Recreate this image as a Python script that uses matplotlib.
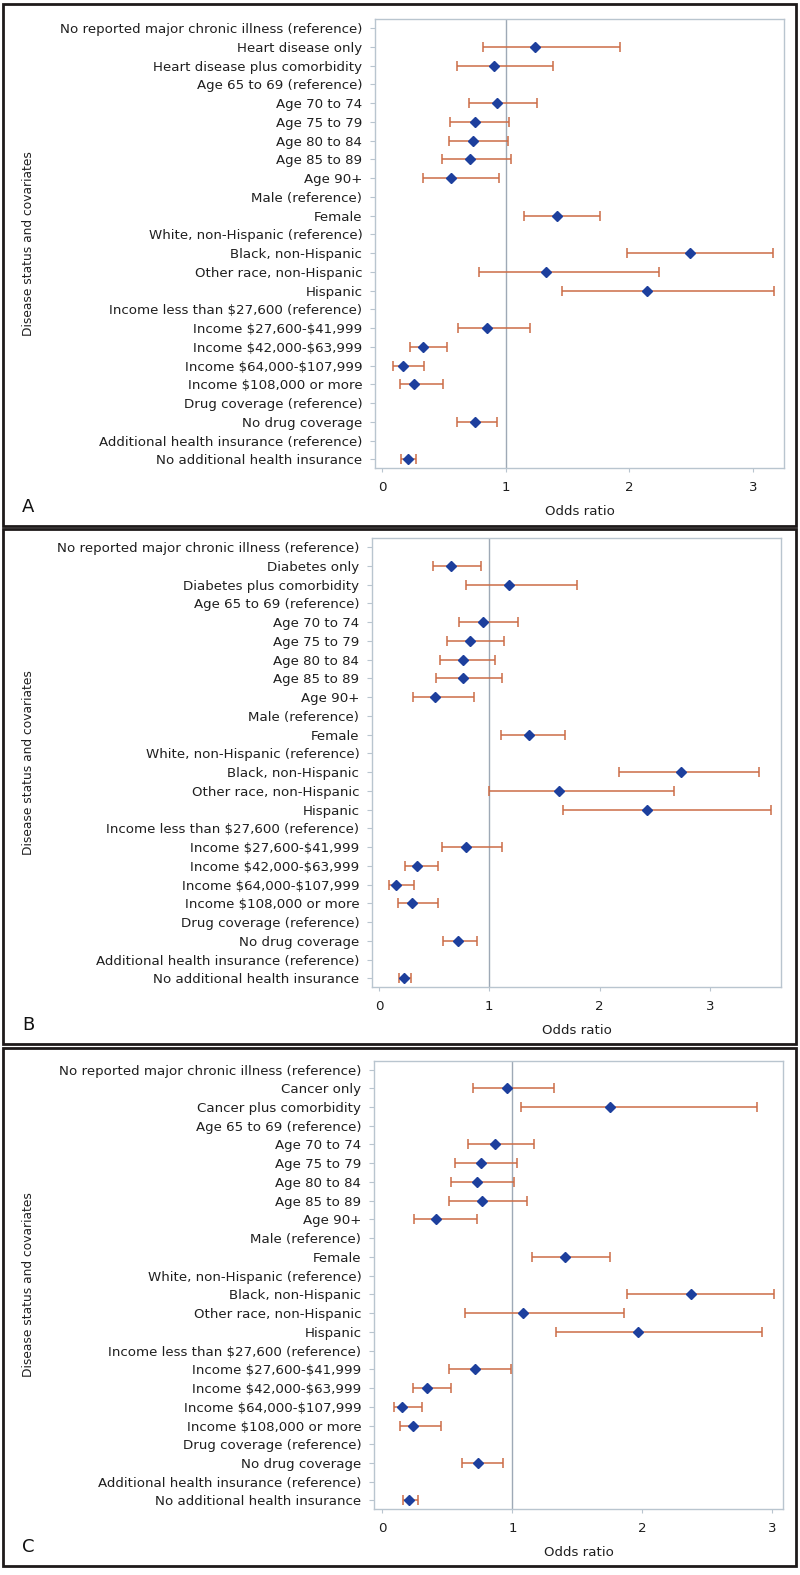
import numpy as np
import matplotlib
matplotlib.use("Agg")
import matplotlib.pyplot as plt
from matplotlib.patches import Rectangle

plt.rcParams['font.family'] = ['DejaVu Sans']
plt.rcParams['text.parse_math'] = False  # labels contain dollar signs

nan = np.nan

# rows shared by all three panels (after the three disease rows)
common_labels = [
    "Age 65 to 69 (reference)", "Age 70 to 74", "Age 75 to 79", "Age 80 to 84",
    "Age 85 to 89", "Age 90+", "Male (reference)", "Female",
    "White, non-Hispanic (reference)", "Black, non-Hispanic",
    "Other race, non-Hispanic", "Hispanic",
    "Income less than $27,600 (reference)", "Income $27,600-$41,999",
    "Income $42,000-$63,999", "Income $64,000-$107,999",
    "Income $108,000 or more", "Drug coverage (reference)", "No drug coverage",
    "Additional health insurance (reference)", "No additional health insurance",
]

labels_a = ["No reported major chronic illness (reference)", "Heart disease only",
            "Heart disease plus comorbidity"] + common_labels
labels_b = ["No reported major chronic illness (reference)", "Diabetes only",
            "Diabetes plus comorbidity"] + common_labels
labels_c = ["No reported major chronic illness (reference)", "Cancer only",
            "Cancer plus comorbidity"] + common_labels

# panel A - heart disease
or_a = [nan, 1.235, 0.909, nan, 0.929, 0.752, 0.739, 0.710, 0.558, nan, 1.412, nan,
        2.490, 1.322, 2.139, nan, 0.851, 0.331, 0.170, 0.260, nan, 0.748, nan, 0.207]
lo_a = [nan, 0.817, 0.607, nan, 0.700, 0.553, 0.541, 0.483, 0.335, nan, 1.144, nan,
        1.978, 0.784, 1.458, nan, 0.615, 0.227, 0.091, 0.149, nan, 0.607, nan, 0.157]
hi_a = [nan, 1.920, 1.383, nan, 1.250, 1.028, 1.016, 1.045, 0.946, nan, 1.759, nan,
        3.158, 2.242, 3.167, nan, 1.198, 0.529, 0.339, 0.496, nan, 0.933, nan, 0.277]

# panel B - diabetes
or_b = [nan, 0.657, 1.176, nan, 0.940, 0.829, 0.759, 0.759, 0.505, nan, 1.361, nan,
        2.736, 1.630, 2.426, nan, 0.792, 0.347, 0.153, 0.301, nan, 0.718, nan, 0.231]
lo_b = [nan, 0.486, 0.787, nan, 0.727, 0.620, 0.551, 0.519, 0.310, nan, 1.102, nan,
        2.180, 1.000, 1.671, nan, 0.569, 0.236, 0.088, 0.176, nan, 0.583, nan, 0.180]
hi_b = [nan, 0.926, 1.792, nan, 1.259, 1.130, 1.051, 1.120, 0.861, nan, 1.685, nan,
        3.449, 2.676, 3.556, nan, 1.120, 0.532, 0.315, 0.537, nan, 0.889, nan, 0.292]

# panel C - cancer
or_c = [nan, 0.956, 1.750, nan, 0.869, 0.759, 0.731, 0.763, 0.413, nan, 1.404, nan,
        2.375, 1.081, 1.966, nan, 0.712, 0.342, 0.149, 0.232, nan, 0.739, nan, 0.204]
lo_c = [nan, 0.696, 1.066, nan, 0.657, 0.562, 0.531, 0.511, 0.240, nan, 1.152, nan,
        1.884, 0.637, 1.333, nan, 0.515, 0.232, 0.087, 0.134, nan, 0.610, nan, 0.161]
hi_c = [nan, 1.321, 2.882, nan, 1.168, 1.034, 1.011, 1.109, 0.727, nan, 1.754, nan,
        3.016, 1.860, 2.922, nan, 0.991, 0.531, 0.303, 0.452, nan, 0.928, nan, 0.275]

W, H = 800, 1575
EDGE = '#b9c5cf'
REFLINE = '#9ea9b6'
ERRC = '#cc6c46'
DOTC = '#1d3f9d'
TXT = '#1f1f1f'

fig = plt.figure(figsize=(W / 100, H / 100), dpi=100)


def px_box(left, right, top, bottom):
    return [left / W, 1 - bottom / H, (right - left) / W, (bottom - top) / H]


panels = [
    # letter, labels, or, lo, hi, axes box (px), xlim, frame (top, bottom)
    ("A", labels_a, or_a, lo_a, hi_a, (375, 784, 19.3, 468.3), (-0.057, 3.25), (4, 526)),
    ("B", labels_b, or_b, lo_b, hi_b, (372, 781, 538.3, 987.3), (-0.063, 3.645), (529, 1044)),
    ("C", labels_c, or_c, lo_c, hi_c, (374, 783, 1060.7, 1509.3), (-0.065, 3.083), (1048, 1566)),
]

for letter, labels, ors, los, his, box, xlim, frame in panels:
    # outer panel frame
    fig.patches.append(Rectangle((3 / W, 1 - frame[1] / H), 793 / W, (frame[1] - frame[0]) / H,
                                 transform=fig.transFigure, fill=False,
                                 edgecolor='#1e1a1a', linewidth=2.0))

    ax = fig.add_axes(px_box(*box))
    y = np.arange(len(labels))
    ors = np.array(ors)
    los = np.array(los)
    his = np.array(his)

    ax.axvline(1, color=REFLINE, linewidth=1.0, zorder=1)
    ax.errorbar(ors, y, xerr=[ors - los, his - ors], fmt='none', ecolor=ERRC,
                elinewidth=1.1, capsize=3.3, capthick=1.1, zorder=2)
    ax.plot(ors, y, linestyle='none', marker='D', markersize=5.6,
            color=DOTC, zorder=3)

    ax.set_xlim(*xlim)
    ax.set_ylim(len(labels) - 0.53, -0.47)
    ax.set_yticks(y)
    ax.set_yticklabels(labels, fontsize=9.6, color=TXT)
    ax.set_xticks([0, 1, 2, 3])
    ax.set_xticklabels(['0', '1', '2', '3'], fontsize=9.6, color=TXT)
    ax.tick_params(axis='y', length=3.6, width=0.8, color=EDGE, pad=5.5)
    ax.tick_params(axis='x', length=3.0, width=0.8, color=EDGE, pad=6.5)
    for s in ax.spines.values():
        s.set_color(EDGE)
        s.set_linewidth(1.0)
    ax.set_xlabel("Odds ratio", fontsize=9.6, color=TXT, labelpad=7.5)

    yc = (box[2] + box[3]) / 2
    fig.text(28 / W, 1 - yc / H, "Disease status and covariates", rotation=90,
             ha='center', va='center', fontsize=8.8, color=TXT)
    fig.text(28 / W, 1 - (frame[1] - 19) / H, letter, ha='center', va='center',
             fontsize=13, color='#111111')

fig.savefig("out.png", dpi=100)
